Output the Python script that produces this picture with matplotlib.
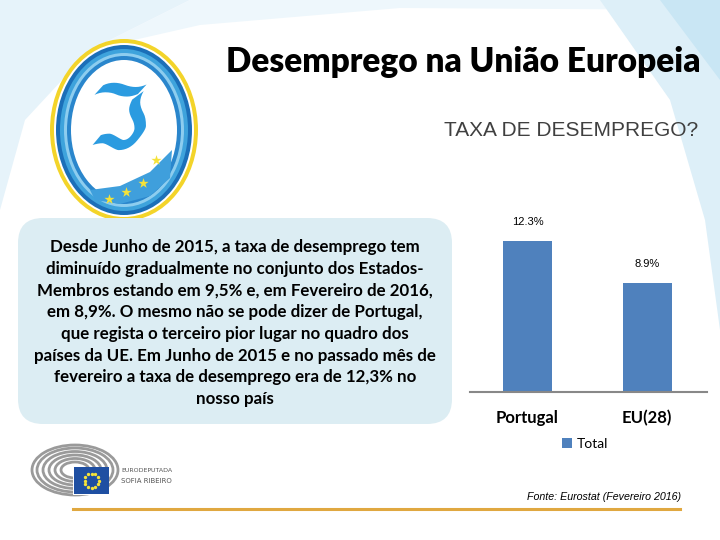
import numpy as np
import matplotlib.pyplot as plt
from matplotlib.patches import Ellipse, FancyBboxPatch, Rectangle, Polygon

# --- data ---
countries = ['Portugal', 'EU(28)']
rates = [12.3, 8.9]
value_labels = ['12.3%', '8.9%']
series_name = 'Total'

title = 'Desemprego na União Europeia'
subtitle = 'TAXA DE DESEMPREGO?'
body_lines = [
    'Desde Junho de 2015, a taxa de desemprego tem',
    'diminuído gradualmente no conjunto dos Estados-',
    'Membros estando em 9,5% e, em Fevereiro de 2016,',
    'em 8,9%. O mesmo não se pode dizer de Portugal,',
    'que regista o terceiro pior lugar no quadro dos',
    'países da UE. Em Junho de 2015 e no passado mês de',
    'fevereiro a taxa de desemprego era de 12,3% no',
    'nosso país',
]
source = 'Fonte: Eurostat (Fevereiro 2016)'

W, H = 720, 540
fig = plt.figure(figsize=(7.2, 5.4), dpi=100)

# background layer in pixel coords
bg = fig.add_axes([0, 0, 1, 1])
bg.set_xlim(0, W)
bg.set_ylim(H, 0)
bg.axis('off')

# light blue swooshes
bg.add_patch(Polygon([(0, 0), (190, 0), (90, 50), (25, 120), (0, 210)],
                     closed=True, color='#e6f3fa', lw=0))
bg.add_patch(Polygon([(190, 0), (720, 0), (720, 10), (400, 8), (200, 25), (90, 50)],
                     closed=True, color='#eef7fc', lw=0))
bg.add_patch(Polygon([(600, 0), (720, 0), (720, 330), (705, 220), (670, 100)],
                     closed=True, color='#ddeff8', lw=0))
bg.add_patch(Polygon([(660, 0), (720, 0), (720, 80)],
                     closed=True, color='#c9e6f4', lw=0))

# logo
cx, cy = 124, 130
for w, h, c in [(148, 182, '#f3d42a'), (140, 174, '#ffffff'), (136, 170, '#1b6fb8'),
                (128, 162, '#3ea3dc'), (120, 154, '#8dcdef'), (114, 148, '#2a86cc'),
                (106, 140, '#ffffff')]:
    bg.add_patch(Ellipse((cx, cy), w, h, color=c, lw=0))
bg.add_patch(Polygon([(90, 190), (120, 186), (150, 172), (172, 150), (170, 178),
                      (150, 196), (120, 204), (95, 200)],
                     closed=True, color='#3f9fdc', lw=0))
bg.text(cx - 6, cy - 6, 'ℑ', fontsize=64, color='#2b9be0', fontweight='bold',
        ha='center', va='center', family=['DejaVu Sans', 'Noto Sans', 'DejaVu Serif'])
bg.scatter([109, 126, 143, 156], [199, 192, 183, 160], marker='*', s=60,
           color='#f5e23a', zorder=5, lw=0)

# titles
bg.text(700, 62, title, fontsize=24, fontweight='heavy', ha='right', va='center',
        family=['Lato', 'DejaVu Sans'], color='black')
bg.text(698, 130, subtitle, fontsize=15, ha='right', va='center',
        family=['Liberation Sans', 'DejaVu Sans'], color='#404040')

# text box
bg.add_patch(FancyBboxPatch((18, 218), 434, 206,
                            boxstyle='round,pad=0,rounding_size=25',
                            color='#dcedf3', lw=0))
for i, line in enumerate(body_lines):
    bg.text(235, 247 + i * 21.7, line, fontsize=12.2, fontweight='bold',
            ha='center', va='center', family=['Lato', 'DejaVu Sans'], color='black')

# parliament logo
for rx, ry in [(14, 8), (20, 11.5), (26, 15), (32, 18.5), (38, 22), (43, 25)]:
    bg.add_patch(Ellipse((75, 470), 2 * rx, 2 * ry, fill=False,
                         edgecolor='#9a9a9a', lw=2.0))
bg.add_patch(Rectangle((73, 467), 36, 28, color='white', lw=0))
bg.add_patch(Rectangle((74, 467), 35, 27, color='#1f4fa2', lw=0))
ang = np.linspace(0, 2 * np.pi, 12, endpoint=False)
bg.scatter(91.5 + 7 * np.cos(ang), 480.5 + 7 * np.sin(ang), s=2, color='#f5e23a', zorder=5)
bg.text(121, 471, 'EURODEPUTADA', fontsize=4.5, color='#555555', va='center')
bg.text(121, 481, 'SOFIA RIBEIRO', fontsize=5, color='#555555', va='center')

# source and line
bg.text(681, 497, source, fontsize=7.7, style='italic', ha='right', va='center',
        family=['Liberation Sans', 'DejaVu Sans'], color='black')
bg.plot([73, 680], [509, 509], color='#e0a840', lw=2.2)

# bar chart
ax = fig.add_axes([470 / W, (H - 392) / H, 237 / W, 172 / H])
ax.patch.set_alpha(0)
x = np.arange(len(countries))
bars = ax.bar(x, rates, width=0.41, color='#4f81bd', label=series_name)
for b, lab in zip(bars, value_labels):
    ax.annotate(lab, (b.get_x() + b.get_width() / 2, b.get_height()),
                xytext=(0, 10), textcoords='offset points', ha='center', va='bottom',
                fontsize=8, family=['Liberation Sans', 'DejaVu Sans'])
ax.set_xlim(-0.48, 1.5)
ax.set_ylim(0, 14.0)
ax.set_xticks(x)
ax.set_xticklabels(countries, fontsize=12, fontweight='bold', family=['Lato', 'DejaVu Sans'])
ax.tick_params(axis='x', length=0, pad=13)
ax.set_yticks([])
for s in ['top', 'right', 'left']:
    ax.spines[s].set_visible(False)
ax.spines['bottom'].set_color('#888888')
ax.spines['bottom'].set_linewidth(1.5)
ax.legend(loc='center', bbox_to_anchor=(585 / W, (H - 444) / H),
          bbox_transform=fig.transFigure, frameon=False,
          handlelength=0.7, handleheight=0.7, handletextpad=0.3,
          prop={'family': ['Lato', 'DejaVu Sans'], 'size': 10})

fig.savefig('out.png', dpi=100)
